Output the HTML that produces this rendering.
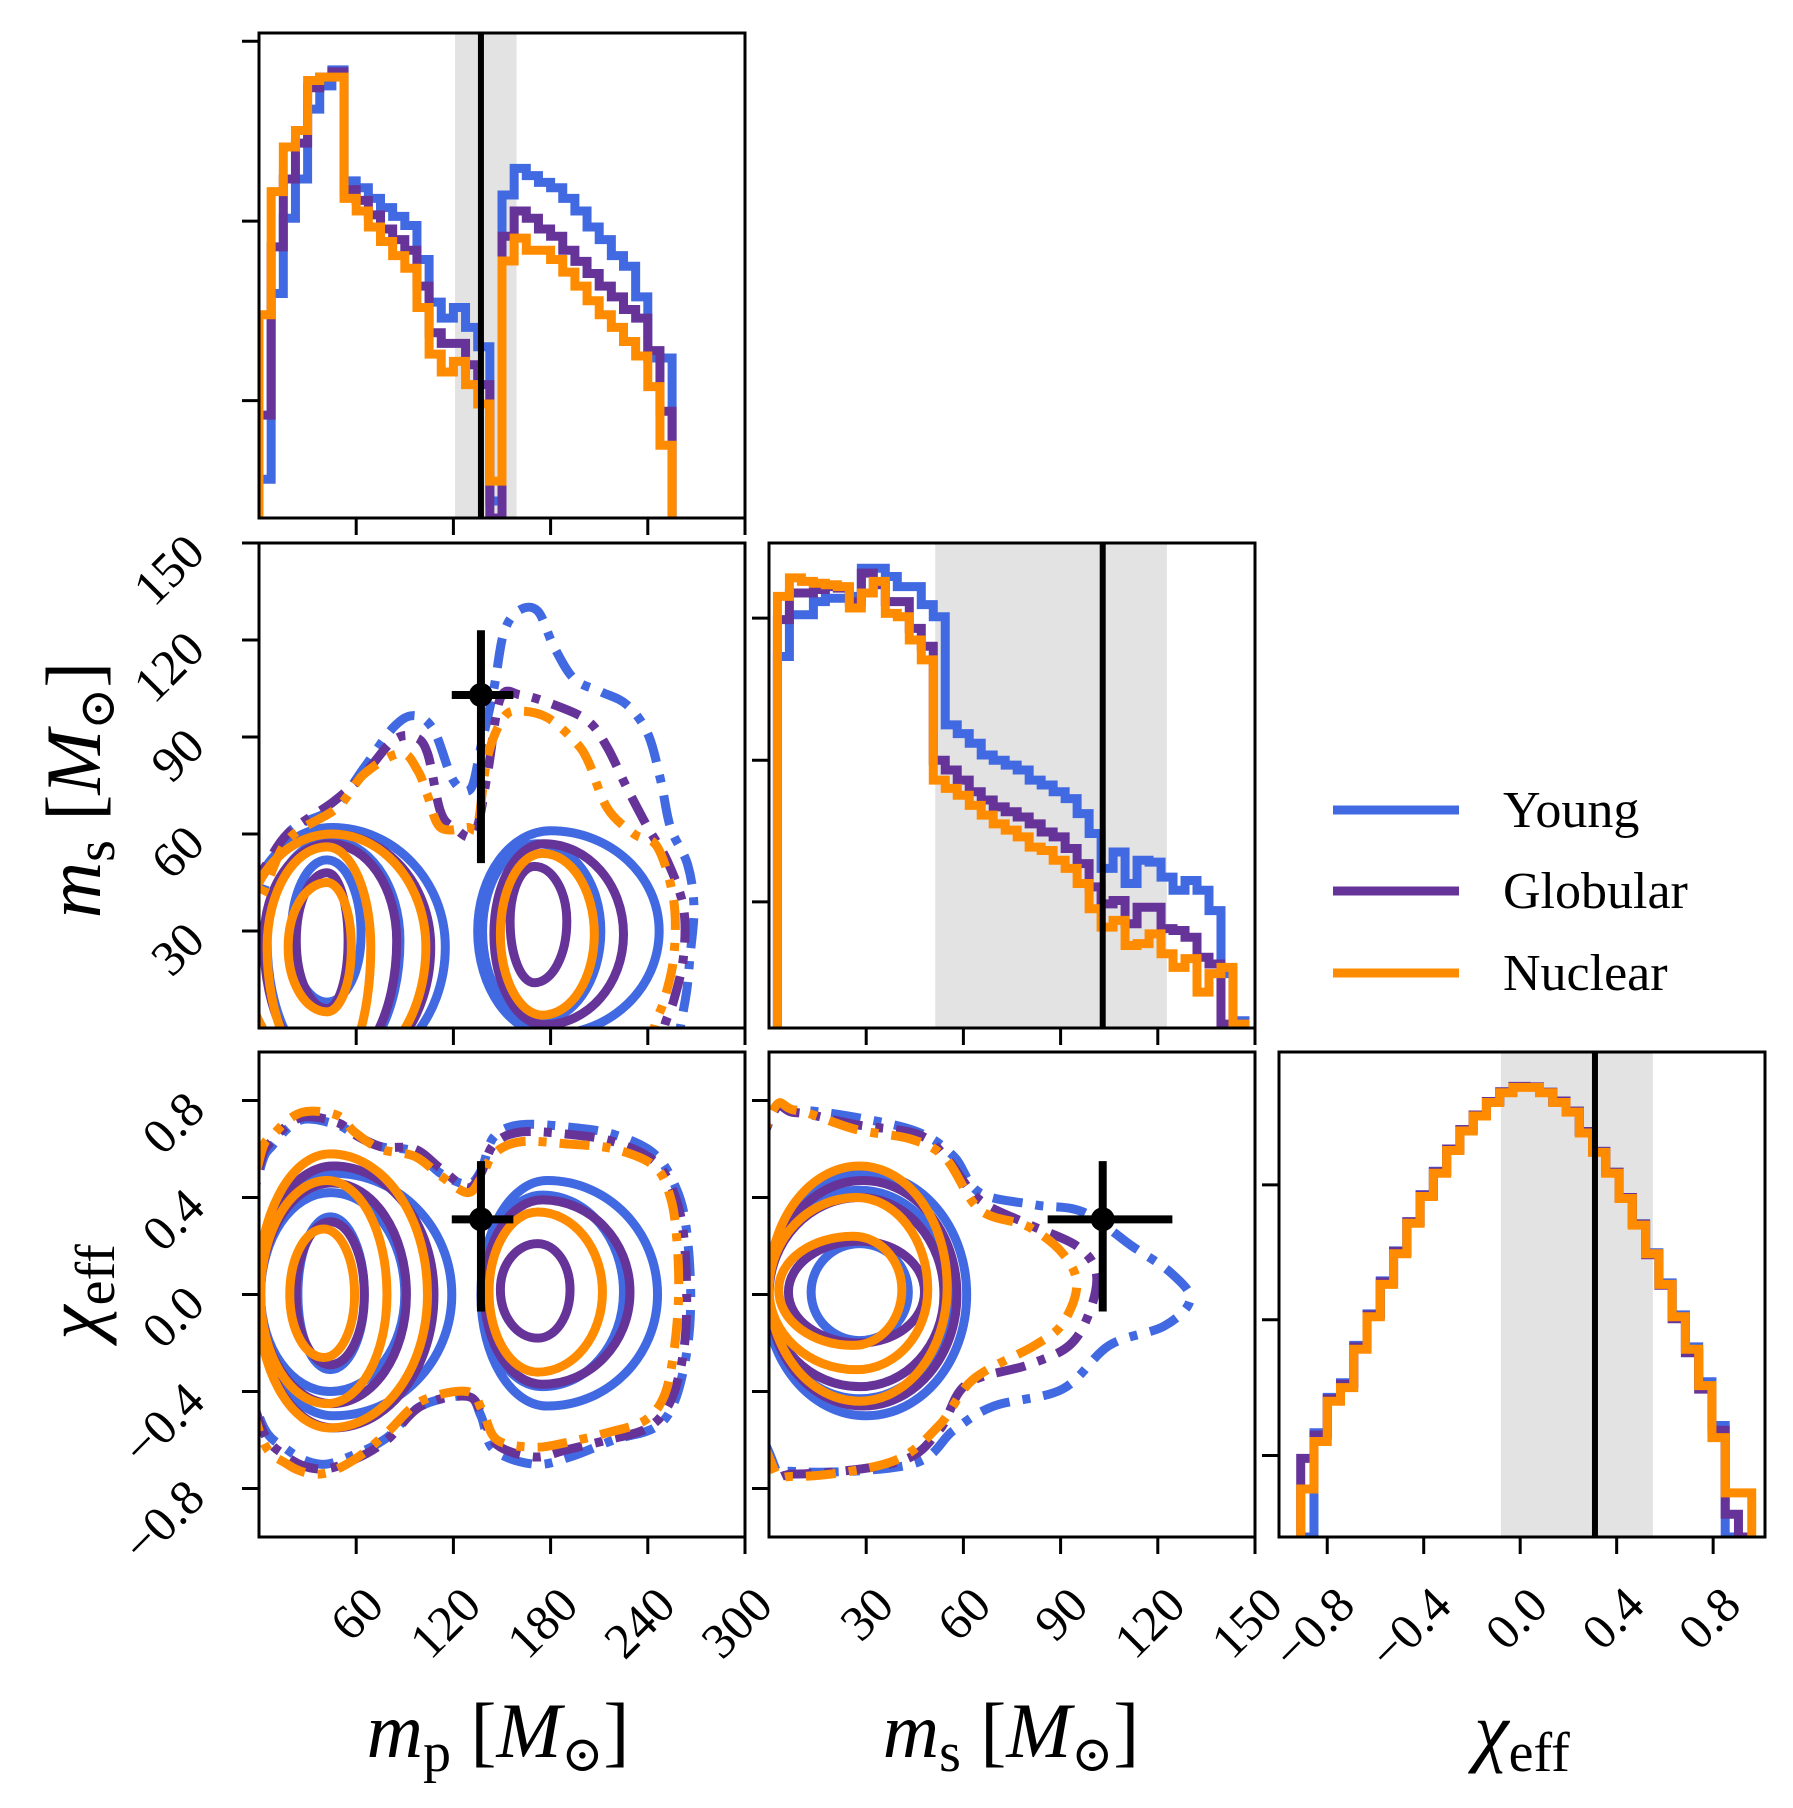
<!DOCTYPE html>
<html><head><meta charset="utf-8"><style>
html,body{margin:0;padding:0;background:#fff;}
svg{display:block;font-family:"Liberation Serif","DejaVu Serif",serif;}
</style></head><body>
<svg id="fig" xmlns="http://www.w3.org/2000/svg" width="1793" height="1808" viewBox="0 0 1793 1808"></svg>
<script>
// ---------- DATA ----------
const seriesNames = ["Young","Globular","Nuclear"];
const mpBinStart = 0, mpBinWidth = 7.5;
const blueMp = [8.0,46.3,61.8,69.9,84.3,89.1,92.4,69.5,68.1,65.9,64.0,62.2,60.3,53.3,44.5,41.2,43.4,39.3,35.3,3.5,66.6,72.1,70.6,69.2,68.1,65.9,63.3,60.0,57.4,54.1,51.9,45.6,33.0,33.0];
const purpleMp = [21.2,55.9,69.9,77.3,88.7,90.9,92.0,67.7,65.5,62.5,59.6,57.4,55.2,47.8,38.2,36.0,36.0,31.6,27.5,0,58.1,63.3,61.8,59.6,58.1,55.2,52.9,50.4,47.8,45.6,43.0,41.2,34.5,22.0];
const orangeMp = [41.9,67.3,76.5,79.9,90.2,90.9,90.9,65.9,63.3,60.0,57.0,54.1,51.5,43.4,33.8,30.1,32.3,27.5,23.5,7.6,53.0,57.7,55.2,55.2,53.3,50.7,47.8,44.8,41.9,39.3,36.4,33.4,27.1,15.0];
const msBinStart = 2.6, msBinWidth = 3.7;
const blueMs = [76.6,85.2,85.2,87.9,88.6,88.6,89.0,94.8,94.8,93.1,91.0,91.0,87.3,84.8,62.5,60.7,58.7,56.3,55.2,54.2,53.2,51.1,50.1,48.7,47.3,44.2,40.1,32.9,36.3,29.8,34.6,34.2,31.1,28.4,30.4,28.4,24.2,11.2,1.5];
const purpleMs = [84.2,89.7,89.7,90.4,91.0,90.7,87.9,93.8,91.4,87.9,87.9,82.4,78.7,55.2,53.2,51.1,48.7,47.0,45.6,44.6,43.5,42.1,40.4,39.4,37.0,33.9,29.1,25.6,26.3,21.5,24.9,24.9,20.5,20.1,18.7,14.6,13.2,0.8,0.8];
const orangeMs = [89.0,92.8,92.1,91.7,91.4,91.0,86.6,89.7,92.1,85.5,84.8,80.0,75.9,51.1,49.4,48.0,45.9,43.9,42.1,40.8,39.4,37.3,36.6,34.6,32.9,29.8,24.6,20.8,22.2,17.0,17.4,19.4,15.3,12.5,14.3,7.4,11.2,12.5,0.8];
const chiBinStart = -0.91, chiBinWidth = 0.055;
const blueChi = [0,21.5,28.8,31.8,39.5,46.0,52.8,59.0,65.0,70.6,75.4,80.0,84.0,87.0,89.8,91.7,92.8,92.8,91.7,89.8,87.8,83.6,79.5,75.2,70.0,64.6,58.6,52.4,45.8,39.2,32.0,23.0,0,0];
const purpleChi = [16.2,21.0,28.5,31.5,39.2,45.8,52.6,58.9,65.0,70.5,75.3,80.0,84.0,87.0,89.8,91.8,92.9,92.8,91.7,89.9,87.8,83.6,79.5,75.2,70.0,64.5,58.2,51.9,45.0,38.0,30.5,22.0,4.7,0];
const orangeChi = [9.9,19.7,28.0,30.8,38.7,45.4,52.1,58.4,64.7,70.2,75.0,79.7,83.7,86.8,89.6,91.6,92.7,92.7,91.6,89.6,87.6,83.3,79.3,75.0,69.8,64.3,58.4,52.1,45.4,38.7,31.2,20.5,9.1,9.1];
// truth values and intervals
const truthMp = 137, truthMpLo = 121, truthMpHi = 159, crossMpLo = 119, crossMpHi = 157;
const truthMs = 103, truthMsLo = 51.3, truthMsHi = 122.8, crossMsLo = 86, crossMsHi = 124.5, barMsLo = 51, barMsHi = 123;
const truthChi = 0.31, truthChiLo = -0.08, truthChiHi = 0.55, barChiLo = -0.07, barChiHi = 0.55;
// contour levels: [cx, cy, left, right, top, bottom] in data units
const ell21Blue = [[42,29,22,21,23,21],[44,27,39,43,31,40],[45,25,55,70,37,40],[172,30,34,39,27,28],[180,30,45,67,31,32]];
const ell21Purple = [[42,27,19,13,21,21],[44,27,41,41,30,40],[45,25,55,61,35,40],[170,33,15,20,17,19],[176,29,31,49,28,28]];
const ell21Orange = [[42,25,24,15,20,20],[42,25,37,27,31,40],[45,25,55,58,35,40],[175,29,26,32,25,25]];
const ell31Blue = [[44,0,20,21,.32,.31],[44,0,43,46,.42,.4],[46,0,47,73,.5,.5],[175,.01,37,50,.4,.39],[178,0,41,68,.47,.46]];
const ell31Purple = [[44,0,21,21,.3,.29],[45,0,44,46,.46,.45],[46,0,47,62,.53,.55],[172,.02,23,20,.19,.2],[175,.01,36,54,.38,.38]];
const ell31Orange = [[40,0,21,19,.27,.26],[42,0,41,37,.47,.45],[44,0,45,60,.58,.55],[172,.01,30,40,.33,.33]];
const ell32Blue = [[28,.01,15,15,.2,.2],[28,0,28,28,.43,.43],[30,0,31,31,.5,.5]];
const ell32Purple = [[28,.01,22,20,.21,.21],[28,0,28,26,.4,.38],[29,0,29,29,.47,.46]];
const ell32Orange = [[26,.02,23,15,.22,.23],[27,.02,27,22,.38,.33],[28,.03,28,27,.5,.47]];
// outer (dash-dot) contours as point lists in data units
const dd21Blue = [[-15,37],[0,40],[17.5,60],[46,68],[65,80.6],[83,93],[96,96.6],[108,92],[120,76.5],[130.7,74],[137,87],[145,105],[151,122],[160,129],[172,129],[182,118],[194.5,108],[211,104],[227,100],[240,91],[248,76.5],[254,62],[264.5,50.7],[268.5,37.3],[266,21.9],[264,11.5],[260,0],[255,-15],[-15,-15]];
const dd21Purple = [[-15,45],[0,47.6],[17.5,60],[46,70],[65,78.6],[83,89],[96,90],[104,85],[112,67],[120.4,62],[133,60],[141,78.6],[149,102],[161.6,103],[182,100],[203,95],[215,86.8],[227,74.4],[240,62],[252,51.7],[262,37.3],[262,21.9],[256,8.5],[250,0],[245,-15],[-15,-15]];
const dd21Orange = [[-15,37],[0,39.4],[17.5,58],[48,68],[65,78.6],[87.5,85],[98,79.6],[104,72],[112,62],[128.6,62],[135,63],[141,83.7],[151,96],[161.6,98],[178,96],[194.5,88.9],[203,82.7],[215,68],[231.5,60],[246,55.9],[256,39.4],[256,21.9],[250,8.5],[244,0],[240,-15],[-15,-15]];
const dd31Blue = [[-15,0],[0,0.5],[9,0.62],[26,0.72],[48,0.70],[59,0.66],[75,0.61],[96,0.59],[112,0.5],[128.6,0.455],[137,0.51],[145,0.65],[161.6,0.70],[192,0.69],[219,0.66],[244,0.58],[258,0.43],[264,0.26],[266.5,-0.01],[264,-0.24],[256,-0.45],[244,-0.55],[219,-0.60],[192,-0.67],[170,-0.70],[145,-0.64],[137,-0.5],[128.6,-0.42],[100,-0.46],[79,-0.59],[59,-0.66],[38,-0.70],[17.5,-0.64],[0,-0.5]];
const dd31Purple = [[-15,0],[0,0.52],[9,0.64],[26,0.73],[48,0.71],[59,0.66],[75,0.61],[96,0.6],[112,0.52],[128.6,0.44],[137,0.5],[145,0.62],[161.6,0.67],[192,0.66],[219,0.63],[244,0.55],[256,0.42],[262,0.25],[264,-0.01],[262,-0.24],[254,-0.44],[240,-0.55],[215,-0.60],[190,-0.64],[170,-0.67],[147,-0.62],[138,-0.5],[128.6,-0.42],[100,-0.46],[79,-0.6],[59,-0.68],[38,-0.72],[17.5,-0.67],[0,-0.52]];
const dd31Orange = [[-15,0],[0,0.55],[9,0.66],[26,0.75],[48,0.74],[59,0.67],[75,0.6],[96,0.57],[112,0.49],[128.6,0.42],[137,0.48],[145,0.58],[161.6,0.63],[192,0.62],[219,0.6],[244,0.53],[254,0.4],[258,0.22],[259,-0.01],[256,-0.24],[250,-0.42],[238,-0.52],[215,-0.57],[190,-0.61],[170,-0.63],[147,-0.6],[138,-0.48],[128.6,-0.4],[100,-0.44],[79,-0.57],[59,-0.68],[38,-0.74],[17.5,-0.7],[0,-0.56]];
const dd32Blue = [[-15,0],[0,0.72],[8,0.76],[27,0.73],[46,0.67],[57,0.57],[65,0.42],[82,0.37],[97,0.34],[112,0.2],[124,0.09],[130,-0.02],[122,-0.13],[105,-0.21],[90.6,-0.39],[69.4,-0.46],[57,-0.56],[44,-0.7],[8,-0.73],[0,-0.65]];
const dd32Purple = [[-15,0],[0,0.71],[8,0.75],[27,0.70],[46,0.66],[55,0.56],[65,0.39],[80,0.29],[95,0.2],[101,0.09],[99,-0.07],[92.7,-0.21],[80,-0.29],[61,-0.37],[52.5,-0.56],[40,-0.69],[8,-0.74],[0,-0.68]];
const dd32Orange = [[-15,0],[0,0.72],[8,0.76],[27,0.68],[44,0.64],[54.6,0.56],[65,0.35],[80,0.28],[90.6,0.17],[95,0.04],[90.6,-0.12],[82,-0.21],[63,-0.35],[52.5,-0.54],[37.7,-0.69],[8,-0.75],[0,-0.67]];
// tick values and labels
const mpTicks = [60,120,180,240,300];
const mpTickLabels = ["60","120","180","240","300"];
const msTicks = [30,60,90,120,150];
const msTickLabels = ["30","60","90","120","150"];
const chiTicks = [-0.8,-0.4,0,0.4,0.8];
const chiTickLabels = ["\u22120.8","\u22120.4","0.0","0.4","0.8"];
const histTicks1 = [24.2,61.2,98.3];
const histTicks2 = [26.0,55.2,84.5];
const histTicks3 = [16.8,44.8,72.6];

// ---------- LAYOUT ----------
const NS = "http://www.w3.org/2000/svg";
const svg = document.getElementById('fig');
const COLX = [259, 769, 1279], ROWY = [33, 543, 1052], PW = 486, PH = 485;
const BLUE = "#4169E1", PURPLE = "#663399", ORANGE = "#FF8C00";
const HW = 9, CW = 9;
function lin(d0, d1, r0, r1) { return v => r0 + (v - d0) / (d1 - d0) * (r1 - r0); }
const xMp = lin(0, 300, COLX[0], COLX[0] + PW);
const xMs = lin(0, 150, COLX[1], COLX[1] + PW);
const xChi = lin(-1.0, 1.015, COLX[2], COLX[2] + PW);
const yMs = lin(0, 150, ROWY[1] + PH, ROWY[1]);
const yChi = lin(-1, 1, ROWY[2] + PH, ROWY[2]);
const yH1 = lin(0, 100, ROWY[0] + PH, ROWY[0]);
const yH2 = lin(0, 100, ROWY[1] + PH, ROWY[1]);
const yH3 = lin(0, 100, ROWY[2] + PH, ROWY[2]);

function mk(tag, attrs, parent) {
  const e = document.createElementNS(NS, tag);
  for (const k in attrs) e.setAttribute(k, attrs[k]);
  (parent || svg).appendChild(e);
  return e;
}
const defs = mk('defs', {});
function panel(name, col, row) {
  const cp = mk('clipPath', { id: 'clip-' + name }, defs);
  mk('rect', { x: COLX[col], y: ROWY[row], width: PW, height: PH }, cp);
  const g = mk('g', {});
  
  
  const inner = mk('g', { 'clip-path': 'url(#clip-' + name + ')' }, g);
  return { g, inner, x: COLX[col], y: ROWY[row] };
}
function band(p, x0, x1) {
  const r = mk('rect', { x: x0, y: p.y, width: x1 - x0, height: PH, fill: '#e3e3e3' }, p.inner);
  
  
}
function vline(p, x, nm) {
  const l = mk('line', { x1: x, x2: x, y1: p.y, y2: p.y + PH, stroke: '#000', 'stroke-width': 6 }, p.inner);
  
  
}
function hist(p, start, w, vals, fx, fy, color, nm) {
  let d = 'M' + fx(start) + ',' + fy(0);
  vals.forEach((v, i) => { d += ' V' + fy(v) + ' H' + fx(start + (i + 1) * w); });
  d += ' V' + fy(0);
  const path = mk('path', { d, fill: 'none', stroke: color, 'stroke-width': HW, 'stroke-linejoin': 'miter' }, p.inner);
  
  
}
function ellPath(e, fx, fy) {
  const [cx, cy, L, R, T, B] = e, k = 0.5523;
  const X = fx(cx), Y = fy(cy), xr = fx(cx + R), xl = fx(cx - L), yt = fy(cy + T), yb = fy(cy - B);
  return `M${xr},${Y} C${xr},${Y + (yt - Y) * k} ${X + (xr - X) * k},${yt} ${X},${yt} ` +
    `C${X + (xl - X) * k},${yt} ${xl},${Y + (yt - Y) * k} ${xl},${Y} ` +
    `C${xl},${Y + (yb - Y) * k} ${X + (xl - X) * k},${yb} ${X},${yb} ` +
    `C${X + (xr - X) * k},${yb} ${xr},${Y + (yb - Y) * k} ${xr},${Y} Z`;
}
function smoothClosed(pts, fx, fy) {
  const P = pts.map(q => [fx(q[0]), fy(q[1])]), n = P.length;
  let d = 'M' + P[0][0] + ',' + P[0][1];
  for (let i = 0; i < n; i++) {
    const p0 = P[(i - 1 + n) % n], p1 = P[i], p2 = P[(i + 1) % n], p3 = P[(i + 2) % n];
    const c1 = [p1[0] + (p2[0] - p0[0]) / 6, p1[1] + (p2[1] - p0[1]) / 6];
    const c2 = [p2[0] - (p3[0] - p1[0]) / 6, p2[1] - (p3[1] - p1[1]) / 6];
    d += ` C${c1[0]},${c1[1]} ${c2[0]},${c2[1]} ${p2[0]},${p2[1]}`;
  }
  return d + ' Z';
}
function contours(p, ells, dd, fx, fy, color, nm) {
  ells.forEach(e => {
    const path = mk('path', { d: ellPath(e, fx, fy), fill: 'none', stroke: color, 'stroke-width': CW }, p.inner);
    
    
  });
  const o = mk('path', { d: smoothClosed(dd, fx, fy), fill: 'none', stroke: color, 'stroke-width': CW, 'stroke-dasharray': '30,13,8,13' }, p.inner);
  
  
}
function cross(p, x, y, x0, x1, y0, y1) {
  const g = mk('g', {}, p.g);
  
  
  mk('line', { x1: x0, x2: x1, y1: y, y2: y, stroke: '#000', 'stroke-width': 8 }, g);
  mk('line', { x1: x, x2: x, y1: y0, y2: y1, stroke: '#000', 'stroke-width': 8 }, g);
  mk('circle', { cx: x, cy: y, r: 12, fill: '#000' }, g);
}
function frame(p) {
  const r = mk('rect', { x: p.x, y: p.y, width: PW, height: PH, fill: 'none', stroke: '#000', 'stroke-width': 3 }, p.g);
  
  
}
function xticks(p, vals, fx, labels, nm) {
  vals.forEach((v, i) => {
    const x = fx(v);
    mk('line', { x1: x, x2: x, y1: p.y + PH, y2: p.y + PH + 17, stroke: '#000', 'stroke-width': 3 }, p.g);
    if (labels) {
      const t = mk('text', { x: x + 30, y: p.y + PH + 71, 'font-size': 50, 'text-anchor': 'end', transform: `rotate(-45 ${x + 30} ${p.y + PH + 71})` }, p.g);
      t.textContent = labels[i];
      
      
    }
  });
}
function yticks(p, vals, fy, labels, nm) {
  vals.forEach((v, i) => {
    const y = fy(v);
    mk('line', { x1: p.x - 17, x2: p.x, y1: y, y2: y, stroke: '#000', 'stroke-width': 3 }, p.g);
    if (labels) {
      const t = mk('text', { x: p.x - 52, y: y + 12, 'font-size': 50, 'text-anchor': 'end', transform: `rotate(-45 ${p.x - 52} ${y + 12})` }, p.g);
      t.textContent = labels[i];
      
      
    }
  });
}

// ---------- PANEL 1,1: mp histogram ----------
const p11 = panel('mp-histogram', 0, 0);
band(p11, xMp(truthMpLo), xMp(truthMpHi));
hist(p11, mpBinStart, mpBinWidth, blueMp, xMp, yH1, BLUE, 'young-mp-hist');
hist(p11, mpBinStart, mpBinWidth, purpleMp, xMp, yH1, PURPLE, 'globular-mp-hist');
hist(p11, mpBinStart, mpBinWidth, orangeMp, xMp, yH1, ORANGE, 'nuclear-mp-hist');
vline(p11, xMp(truthMp), 'mp-truth-line');
frame(p11); xticks(p11, mpTicks, xMp, null, 'mp'); yticks(p11, histTicks1, yH1, null, 'density');

// ---------- PANEL 2,1: mp vs ms ----------
const p21 = panel('mp-ms-contours', 0, 1);
contours(p21, ell21Blue, dd21Blue, xMp, yMs, BLUE, 'young');
contours(p21, ell21Purple, dd21Purple, xMp, yMs, PURPLE, 'globular');
contours(p21, ell21Orange, dd21Orange, xMp, yMs, ORANGE, 'nuclear');
cross(p21, xMp(truthMp), yMs(truthMs), xMp(crossMpLo), xMp(crossMpHi), yMs(barMsHi), yMs(barMsLo));
frame(p21); xticks(p21, mpTicks, xMp, null, 'mp'); yticks(p21, msTicks, yMs, msTickLabels, 'ms');

// ---------- PANEL 2,2: ms histogram ----------
const p22 = panel('ms-histogram', 1, 1);
band(p22, xMs(truthMsLo), xMs(truthMsHi));
hist(p22, msBinStart, msBinWidth, blueMs, xMs, yH2, BLUE, 'young-ms-hist');
hist(p22, msBinStart, msBinWidth, purpleMs, xMs, yH2, PURPLE, 'globular-ms-hist');
hist(p22, msBinStart, msBinWidth, orangeMs, xMs, yH2, ORANGE, 'nuclear-ms-hist');
vline(p22, xMs(truthMs), 'ms-truth-line');
frame(p22); xticks(p22, msTicks, xMs, null, 'ms'); yticks(p22, histTicks2, yH2, null, 'density');

// ---------- PANEL 3,1: mp vs chi ----------
const p31 = panel('mp-chi-contours', 0, 2);
contours(p31, ell31Blue, dd31Blue, xMp, yChi, BLUE, 'young');
contours(p31, ell31Purple, dd31Purple, xMp, yChi, PURPLE, 'globular');
contours(p31, ell31Orange, dd31Orange, xMp, yChi, ORANGE, 'nuclear');
cross(p31, xMp(truthMp), yChi(truthChi), xMp(crossMpLo), xMp(crossMpHi), yChi(barChiHi), yChi(barChiLo));
frame(p31); xticks(p31, mpTicks, xMp, mpTickLabels, 'mp'); yticks(p31, chiTicks, yChi, chiTickLabels, 'chi');

// ---------- PANEL 3,2: ms vs chi ----------
const p32 = panel('ms-chi-contours', 1, 2);
contours(p32, ell32Blue, dd32Blue, xMs, yChi, BLUE, 'young');
contours(p32, ell32Purple, dd32Purple, xMs, yChi, PURPLE, 'globular');
contours(p32, ell32Orange, dd32Orange, xMs, yChi, ORANGE, 'nuclear');
cross(p32, xMs(truthMs), yChi(truthChi), xMs(crossMsLo), xMs(crossMsHi), yChi(barChiHi), yChi(barChiLo));
frame(p32); xticks(p32, msTicks, xMs, msTickLabels, 'ms'); yticks(p32, chiTicks, yChi, null, 'chi');

// ---------- PANEL 3,3: chi histogram ----------
const p33 = panel('chi-histogram', 2, 2);
band(p33, xChi(truthChiLo), xChi(truthChiHi));
hist(p33, chiBinStart, chiBinWidth, blueChi, xChi, yH3, BLUE, 'young-chi-hist');
hist(p33, chiBinStart, chiBinWidth, purpleChi, xChi, yH3, PURPLE, 'globular-chi-hist');
hist(p33, chiBinStart, chiBinWidth, orangeChi, xChi, yH3, ORANGE, 'nuclear-chi-hist');
vline(p33, xChi(truthChi), 'chi-truth-line');
frame(p33); xticks(p33, chiTicks, xChi, chiTickLabels, 'chi'); yticks(p33, histTicks3, yH3, null, 'density');

// ---------- LEGEND ----------
const legend = mk('g', {});


const legendColors = [BLUE, PURPLE, ORANGE];
const legendY = [810, 891, 973];
seriesNames.forEach((s, i) => {
  const ent = mk('g', {}, legend);
  
  
  mk('line', { x1: 1333, x2: 1459, y1: legendY[i], y2: legendY[i], stroke: legendColors[i], 'stroke-width': 9 }, ent);
  const t = mk('text', { x: 1503, y: legendY[i] + 17, 'font-size': 52 }, ent);
  t.textContent = s;
});
</script>
<script>
// axis titles
(function(){
  const fig = document.getElementById('fig');
  fig.insertAdjacentHTML('beforeend',
  '<text x="498" y="1757" text-anchor="middle" font-size="78"><tspan font-style="italic">m</tspan><tspan font-size="56" dy="14">p</tspan><tspan dy="-14"> [</tspan><tspan font-style="italic">M</tspan><tspan font-size="50" dy="14">\u2299</tspan><tspan dy="-14">]</tspan></text>' +
  '<text x="1011" y="1757" text-anchor="middle" font-size="78"><tspan font-style="italic">m</tspan><tspan font-size="56" dy="14">s</tspan><tspan dy="-14"> [</tspan><tspan font-style="italic">M</tspan><tspan font-size="50" dy="14">\u2299</tspan><tspan dy="-14">]</tspan></text>' +
  '<text x="1522" y="1757" text-anchor="middle" font-size="78"><tspan font-style="italic">\u03c7</tspan><tspan font-size="56" dy="14">eff</tspan></text>' +
  '<text transform="translate(100,790) rotate(-90)" text-anchor="middle" font-size="78"><tspan font-style="italic">m</tspan><tspan font-size="56" dy="14">s</tspan><tspan dy="-14"> [</tspan><tspan font-style="italic">M</tspan><tspan font-size="50" dy="14">\u2299</tspan><tspan dy="-14">]</tspan></text>' +
  '<text transform="translate(100,1292) rotate(-90)" text-anchor="middle" font-size="78"><tspan font-style="italic">\u03c7</tspan><tspan font-size="56" dy="14">eff</tspan></text>');
})();
</script>
</body></html>
